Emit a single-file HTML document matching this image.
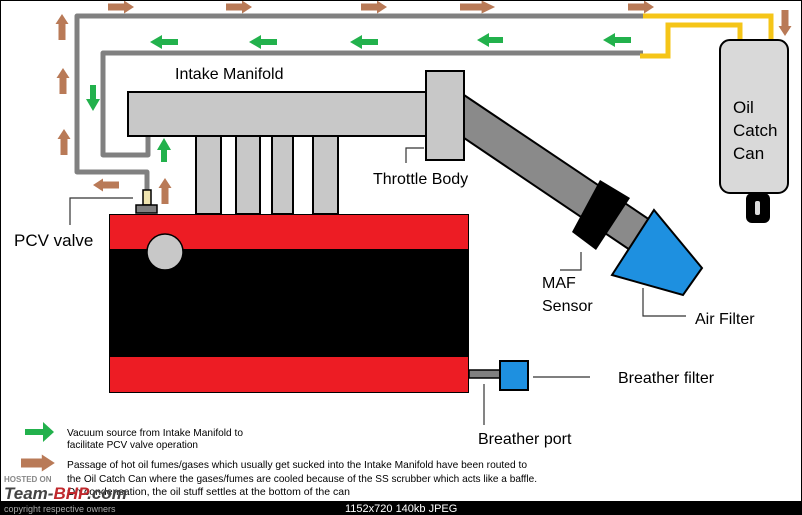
<!DOCTYPE html>
<html><head><style>
body{margin:0;background:#fff;}
svg{display:block;font-family:"Liberation Sans",sans-serif;}
</style></head><body>
<svg width="802" height="515" viewBox="0 0 802 515" xmlns="http://www.w3.org/2000/svg">
<defs>
<path id="ba" d="M0,-3.5H16V-6.5L26,0 16,6.5V3.5H0Z" fill="#b97a57"/>
</defs>
<rect width="802" height="515" fill="#fff"/>
<!-- pipes -->
<g fill="none" stroke="#808080" stroke-width="5" stroke-linejoin="round">
<path d="M643,16 H77 V172 H147 V192"/>
<path d="M643,53 H103 V155 H148 V136"/>
</g>
<g fill="none" stroke="#f5c518" stroke-width="5">
<path d="M643,16 H771 V42"/>
<path d="M640,56 H668 V25 H740 V42"/>
</g>
<!-- oil catch can -->
<rect x="720" y="40" width="68" height="153" rx="10" fill="#d9d9d9" stroke="#000" stroke-width="2"/>
<rect x="746" y="193" width="24" height="30" rx="6" fill="#000"/>
<rect x="755" y="201" width="5" height="14" rx="2" fill="#ddd"/>
<text x="733" y="113" font-size="17">Oil</text>
<text x="733" y="136" font-size="17">Catch</text>
<text x="733" y="159" font-size="17">Can</text>
<!-- intake pipe diagonal -->
<polygon points="464,95 650,220 630,250 464,138" fill="#8a8a8a" stroke="#000" stroke-width="2"/>
<polygon points="600,180 630,198 596,250 572,232" fill="#000"/>
<polygon points="654,210 702,268 683,295 612,275" fill="#1e90e0" stroke="#000" stroke-width="2"/>
<!-- manifold -->
<rect x="128" y="92" width="300" height="44" fill="#c8c8c8" stroke="#000" stroke-width="2"/>
<rect x="426" y="71" width="38" height="89" fill="#c8c8c8" stroke="#000" stroke-width="2"/>
<g fill="#c8c8c8" stroke="#000" stroke-width="2">
<rect x="196" y="136" width="25" height="78"/>
<rect x="236" y="136" width="24" height="78"/>
<rect x="272" y="136" width="21" height="78"/>
<rect x="313" y="136" width="25" height="78"/>
</g>
<!-- engine -->
<rect x="109" y="214" width="360" height="179" fill="#000"/>
<rect x="110" y="215" width="358" height="34" fill="#ed1c24"/>
<rect x="110" y="357" width="358" height="35" fill="#ed1c24"/>
<circle cx="165" cy="252" r="18" fill="#c8c8c8" stroke="#000" stroke-width="1.5"/>
<rect x="469" y="370" width="32" height="8" fill="#808080" stroke="#000" stroke-width="1.5"/>
<rect x="500" y="361" width="28" height="29" fill="#1e90e0" stroke="#000" stroke-width="2"/>
<!-- pcv valve -->
<rect x="143" y="190" width="8" height="15" fill="#efe4b0" stroke="#000" stroke-width="1.5"/>
<rect x="136" y="205" width="21" height="8" fill="#808080" stroke="#000" stroke-width="1.5"/>
<!-- leaders -->
<g fill="none" stroke="#333" stroke-width="1.2">
<path d="M133,198 H70 V225"/>
<path d="M424,148 H406 V163"/>
<path d="M581,252 V270 H560"/>
<path d="M643,288 V316 H686"/>
<path d="M533,377 H590"/>
<path d="M484,384 V425"/>
</g>
<!-- labels -->
<text x="175" y="79" font-size="16">Intake Manifold</text>
<text x="373" y="184" font-size="16">Throttle Body</text>
<text x="14" y="246" font-size="17">PCV valve</text>
<text x="542" y="288" font-size="16">MAF</text>
<text x="542" y="311" font-size="16">Sensor</text>
<text x="695" y="324" font-size="16">Air Filter</text>
<text x="618" y="383" font-size="16">Breather filter</text>
<text x="478" y="444" font-size="16">Breather port</text>
<!-- brown arrows -->
<use href="#ba" transform="translate(108,7)"/>
<use href="#ba" transform="translate(226,7)"/>
<use href="#ba" transform="translate(361,7)"/>
<use href="#ba" transform="translate(460,7) scale(1.35,1)"/>
<use href="#ba" transform="translate(628,7)"/>
<use href="#ba" transform="translate(62,40) rotate(-90)"/>
<use href="#ba" transform="translate(63,94) rotate(-90)"/>
<use href="#ba" transform="translate(64,155) rotate(-90)"/>
<use href="#ba" transform="translate(785,10) rotate(90)"/>
<use href="#ba" transform="translate(119,185) rotate(180)"/>
<use href="#ba" transform="translate(165,204) rotate(-90)"/>
<use href="#ba" transform="translate(21,463) scale(1.3,1.3)"/>
<!-- green arrows -->
<g fill="#22b14c">
<path d="M178,39v6h-16v4l-12,-7 12,-7v4z"/>
<path d="M277,39v6h-16v4l-12,-7 12,-7v4z"/>
<path d="M378,39v6h-16v4l-12,-7 12,-7v4z"/>
<path d="M503,37v6h-14v4l-12,-7 12,-7v4z"/>
<path d="M631,37v6h-16v4l-12,-7 12,-7v4z"/>
<path d="M90,85h6v14h4l-7,12 -7,-12h4z"/>
<path d="M161,162h6v-12h4l-7,-12 -7,12h4z"/>
<path d="M25,429h18v-7l11,10 -11,10v-7h-18z"/>
</g>
<!-- legend -->
<g font-size="10.5">
<text x="67" y="436" textLength="176" lengthAdjust="spacingAndGlyphs">Vacuum source from Intake Manifold to</text>
<text x="67" y="448" textLength="131" lengthAdjust="spacingAndGlyphs">facilitate PCV valve operation</text>
<text x="67" y="468" textLength="460" lengthAdjust="spacingAndGlyphs">Passage of hot oil fumes/gases which usually get sucked into the Intake Manifold have been routed to</text>
<text x="67" y="482" textLength="470" lengthAdjust="spacingAndGlyphs">the Oil Catch Can where the gases/fumes are cooled because of the SS scrubber which acts like a baffle.</text>
<text x="67" y="495" textLength="283" lengthAdjust="spacingAndGlyphs">On condensation, the oil stuff settles at the bottom of the can</text>
</g>
<text x="4" y="482" font-size="8" fill="#888" font-weight="bold">HOSTED ON</text>
<text x="4" y="499" font-size="17" font-weight="bold" fill="#444" font-style="italic">Team-<tspan fill="#c0282d">BHP</tspan>.com</text>
<rect x="0" y="501" width="802" height="14" fill="#000"/>
<text x="4" y="512" font-size="9" fill="#aaa">copyright respective owners</text>
<text x="345" y="512" font-size="11" fill="#fff">1152x720  140kb  JPEG</text>
<rect x="0.5" y="0.5" width="801" height="514" fill="none" stroke="#000"/>
</svg>
</body></html>
